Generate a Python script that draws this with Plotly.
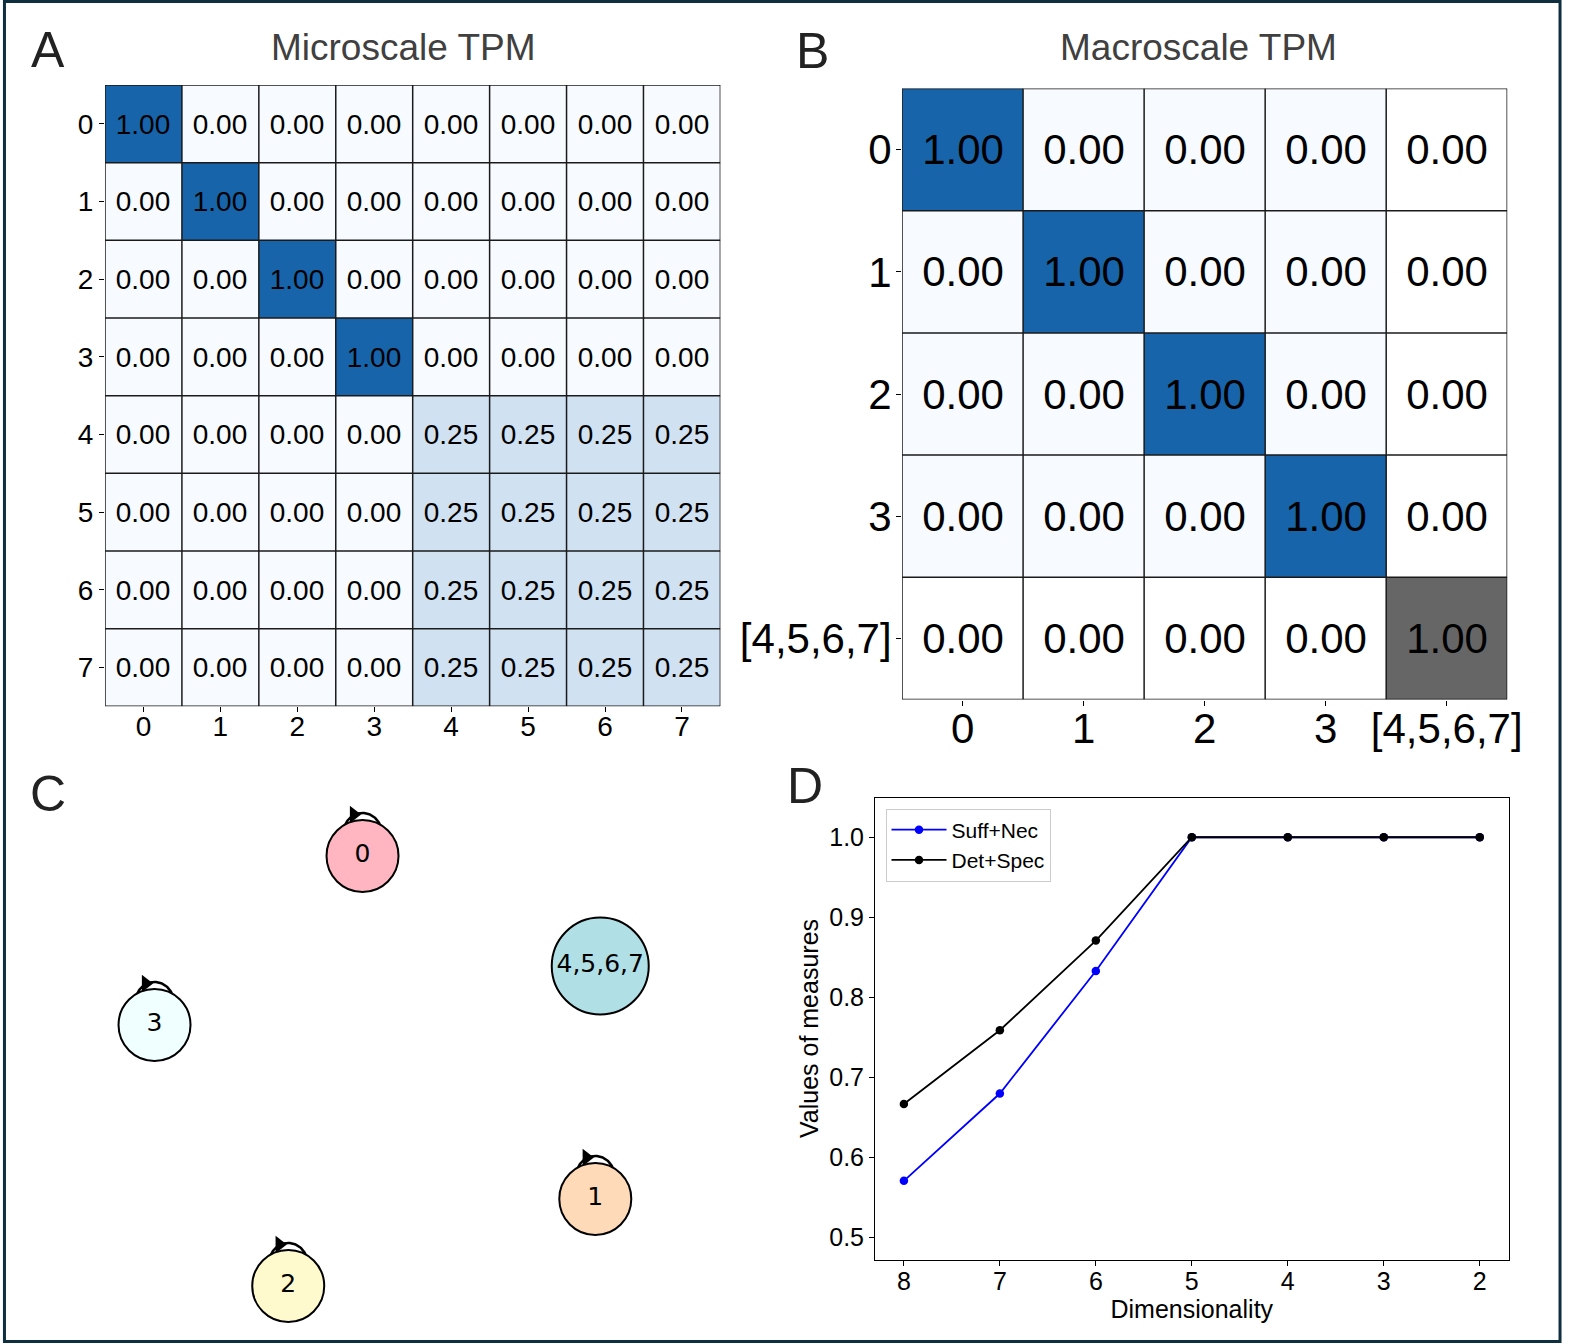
import plotly.graph_objects as go
import numpy as np

W, H = 1578, 1344

# ---------------- data ----------------
micro_labels = ['0', '1', '2', '3', '4', '5', '6', '7']
micro_tpm = [
    [1.00, 0.00, 0.00, 0.00, 0.00, 0.00, 0.00, 0.00],
    [0.00, 1.00, 0.00, 0.00, 0.00, 0.00, 0.00, 0.00],
    [0.00, 0.00, 1.00, 0.00, 0.00, 0.00, 0.00, 0.00],
    [0.00, 0.00, 0.00, 1.00, 0.00, 0.00, 0.00, 0.00],
    [0.00, 0.00, 0.00, 0.00, 0.25, 0.25, 0.25, 0.25],
    [0.00, 0.00, 0.00, 0.00, 0.25, 0.25, 0.25, 0.25],
    [0.00, 0.00, 0.00, 0.00, 0.25, 0.25, 0.25, 0.25],
    [0.00, 0.00, 0.00, 0.00, 0.25, 0.25, 0.25, 0.25],
]

macro_labels = ['0', '1', '2', '3', '[4,5,6,7]']
macro_tpm = [
    [1.00, 0.00, 0.00, 0.00, 0.00],
    [0.00, 1.00, 0.00, 0.00, 0.00],
    [0.00, 0.00, 1.00, 0.00, 0.00],
    [0.00, 0.00, 0.00, 1.00, 0.00],
    [0.00, 0.00, 0.00, 0.00, 1.00],
]
macro_group_index = 4  # the coarse-grained state drawn in grey

node_labels = ['0', '1', '2', '3', '4,5,6,7']
node_x = [366, 601, 291, 156, 606]
node_y = [856, 1199, 1286, 1025, 966]
node_colors = ['#ffb6c1', '#ffdab9', '#fffacd', '#f0ffff', '#b0e0e6']
node_self_loop = [True, True, True, True, False]

dimensionality = [8, 7, 6, 5, 4, 3, 2]
suff_nec = [0.571, 0.680, 0.833, 1.0, 1.0, 1.0, 1.0]
det_spec = [0.667, 0.759, 0.871, 1.0, 1.0, 1.0, 1.0]

# ---------------- helpers ----------------
def px_x(p):
    return p / W

def px_y(p):
    return 1 - p / H

FONT = 'Liberation Sans, Arial, Helvetica, sans-serif'
DJV = 'DejaVu Sans, Liberation Sans, sans-serif'
blues = [[0.0, '#f7fbff'], [0.25, '#d0e1f2'], [1.0, '#1764ab']]
greys = [[0.0, '#ffffff'], [1.0, '#666666']]

fig = go.Figure()

# ---------------- Panel A ----------------
nA = len(micro_labels)
fig.add_trace(go.Heatmap(
    z=micro_tpm, x=list(range(nA)), y=list(range(nA)),
    colorscale=blues, zmin=0, zmax=1, showscale=False,
    text=[[f'{v:.2f}' for v in row] for row in micro_tpm],
    texttemplate='%{text}',
    textfont=dict(size=28, color='black', family=FONT),
    hoverinfo='skip', xaxis='x', yaxis='y'))

# ---------------- Panel B ----------------
nB = len(macro_labels)
g = macro_group_index
z_blue = [[(v if (i != g and j != g) else None) for j, v in enumerate(row)] for i, row in enumerate(macro_tpm)]
z_grey = [[(v if (i == g or j == g) else None) for j, v in enumerate(row)] for i, row in enumerate(macro_tpm)]
t_blue = [[(f'{v:.2f}' if v is not None else '') for v in row] for row in z_blue]
t_grey = [[(f'{v:.2f}' if v is not None else '') for v in row] for row in z_grey]
for z, t, cs in [(z_blue, t_blue, blues), (z_grey, t_grey, greys)]:
    fig.add_trace(go.Heatmap(
        z=z, x=list(range(nB)), y=list(range(nB)),
        colorscale=cs, zmin=0, zmax=1, showscale=False,
        text=t, texttemplate='%{text}',
        textfont=dict(size=42, color='black', family=FONT),
        hoverinfo='skip', xaxis='x2', yaxis='y2'))

# ---------------- Panel C ----------------
loop_c = 24.0
loop_r = 19.0
t_arc = np.linspace(np.deg2rad(12), np.deg2rad(168), 50)
for i in range(len(node_labels)):
    if not node_self_loop[i]:
        continue
    lx = node_x[i] + loop_r * np.cos(t_arc)
    ly = node_y[i] - loop_c - loop_r * np.sin(t_arc)
    fig.add_trace(go.Scatter(x=lx, y=ly, mode='lines',
                             line=dict(color='black', width=2.5),
                             hoverinfo='skip', showlegend=False,
                             xaxis='x3', yaxis='y3'))
    fig.add_trace(go.Scatter(
        x=[node_x[i] - 9], y=[node_y[i] - loop_c - loop_r + 1.5],
        mode='markers',
        marker=dict(symbol='triangle-right', size=15, color='black', angle=0,
                    line=dict(width=0)),
        hoverinfo='skip', showlegend=False, xaxis='x3', yaxis='y3'))

node_sizes = [97 if ',' in lab else 72 for lab in node_labels]
fig.add_trace(go.Scatter(
    x=node_x, y=node_y, mode='markers+text', text=node_labels,
    textposition='middle center',
    textfont=dict(size=25, color='black', family=DJV),
    marker=dict(size=node_sizes, color=node_colors,
                line=dict(color='black', width=2), opacity=1),
    hoverinfo='skip', showlegend=False, xaxis='x3', yaxis='y3'))

# ---------------- Panel D ----------------
fig.add_trace(go.Scatter(
    x=dimensionality, y=suff_nec, mode='lines+markers', name='Suff+Nec',
    line=dict(color='#0000ff', width=1.8), marker=dict(size=8.5, color='#0000ff'),
    xaxis='x4', yaxis='y4'))
fig.add_trace(go.Scatter(
    x=dimensionality, y=det_spec, mode='lines+markers', name='Det+Spec',
    line=dict(color='black', width=1.8), marker=dict(size=8.5, color='black'),
    xaxis='x4', yaxis='y4'))

# ---------------- shapes ----------------
shapes = []
for n, xr, yr in [(nA, 'x', 'y'), (nB, 'x2', 'y2')]:
    for k in range(n + 1):
        shapes.append(dict(type='line', xref=xr, yref=yr, x0=k - 0.5, x1=k - 0.5,
                           y0=-0.5, y1=n - 0.5, line=dict(color='#1a1a1a', width=1.5)))
        shapes.append(dict(type='line', xref=xr, yref=yr, y0=k - 0.5, y1=k - 0.5,
                           x0=-0.5, x1=n - 0.5, line=dict(color='#1a1a1a', width=1.5)))
# outer figure border
shapes.append(dict(type='rect', xref='paper', yref='paper',
                   x0=px_x(4.5), x1=px_x(1575), y0=px_y(1341.5), y1=px_y(1.5),
                   line=dict(color='#0f2e3e', width=3), fillcolor='rgba(0,0,0,0)'))

annotations = [
    dict(text='A', x=px_x(48), y=px_y(50), font=dict(size=50, color='#222222', family=FONT)),
    dict(text='B', x=px_x(820), y=px_y(51), font=dict(size=50, color='#222222', family=FONT)),
    dict(text='C', x=px_x(48), y=px_y(794), font=dict(size=50, color='#222222', family=FONT)),
    dict(text='D', x=px_x(813), y=px_y(786), font=dict(size=50, color='#222222', family=FONT)),
    dict(text='Microscale TPM', x=px_x(407), y=px_y(47), font=dict(size=37, color='#404040', family=FONT)),
    dict(text='Macroscale TPM', x=px_x(1209.5), y=px_y(47), font=dict(size=37, color='#404040', family=FONT)),
]
for a in annotations:
    a.update(xref='paper', yref='paper', showarrow=False, xanchor='center', yanchor='middle')

hm_axis = dict(showgrid=False, zeroline=False, showline=False, ticks='outside',
               ticklen=5, tickwidth=1.2, tickcolor='black')

fig.update_layout(
    autosize=True, margin=dict(l=0, r=0, t=0, b=0),
    paper_bgcolor='white', plot_bgcolor='white',
    font=dict(family=FONT, color='black'),
    shapes=shapes, annotations=annotations,
    xaxis=dict(domain=[px_x(106), px_x(727.3)], range=[-0.5, nA - 0.5],
               tickvals=list(range(nA)), ticktext=micro_labels, ticklabelstandoff=-10,
               tickfont=dict(size=28, family=FONT, color='black'), anchor='y', **hm_axis),
    yaxis=dict(domain=[px_y(706.3), px_y(85)], range=[nA - 0.5, -0.5],
               tickvals=list(range(nA)), ticktext=micro_labels,
               tickfont=dict(size=28, family=FONT, color='black'), anchor='x', **hm_axis),
    xaxis2=dict(domain=[px_x(910.7), px_x(1521.7)], range=[-0.5, nB - 0.5],
                tickvals=list(range(nB)), ticktext=macro_labels, ticklabelstandoff=-13,
                tickfont=dict(size=42, family=FONT, color='black'), anchor='y2', **hm_axis),
    yaxis2=dict(domain=[px_y(699.5), px_y(88.5)], range=[nB - 0.5, -0.5],
                tickvals=list(range(nB)), ticktext=macro_labels, ticklabelstandoff=-4,
                tickfont=dict(size=42, family=FONT, color='black'), anchor='x2', **hm_axis),
    xaxis3=dict(domain=[0, px_x(780)], range=[0, 780], visible=False, anchor='y3'),
    yaxis3=dict(domain=[px_y(1340), px_y(770)], range=[1340, 770], visible=False, anchor='x3'),
    xaxis4=dict(domain=[px_x(883.5), px_x(1523)], range=[8.3, 1.7],
                tickvals=dimensionality, ticks='outside', ticklen=5, tickcolor='black',
                ticklabelstandoff=-6,
                showline=True, linecolor='black', linewidth=1.2, mirror=True,
                showgrid=False, zeroline=False,
                tickfont=dict(size=25, family=FONT, color='black'),
                title=dict(text='Dimensionality', font=dict(size=25, family=FONT, color='black'), standoff=5),
                anchor='y4'),
    yaxis4=dict(domain=[px_y(1259.5), px_y(797.5)], range=[0.4728, 1.0496],
                tickvals=[0.5, 0.6, 0.7, 0.8, 0.9, 1.0], tickformat='.1f',
                ticks='outside', ticklen=5, tickcolor='black',
                showline=True, linecolor='black', linewidth=1.2, mirror=True,
                showgrid=False, zeroline=False,
                tickfont=dict(size=25, family=FONT, color='black'),
                title=dict(text='Values of measures', font=dict(size=25, family=FONT, color='black'), standoff=3),
                anchor='x4'),
    showlegend=True,
    legend=dict(x=px_x(894), y=px_y(808.5), xanchor='left', yanchor='top',
                bgcolor='white', bordercolor='#cccccc', borderwidth=1,
                font=dict(size=21, family=FONT, color='black'),
                tracegroupgap=0, itemwidth=55),
)

fig.write_html('out.html',
               config={'displayModeBar': False, 'responsive': True},
               default_width='100vw', default_height='100vh',
               post_script="document.body.style.margin='0';document.body.style.padding='0';"
                           "document.documentElement.style.overflow='hidden';"
                           "document.body.style.overflow='hidden';")
